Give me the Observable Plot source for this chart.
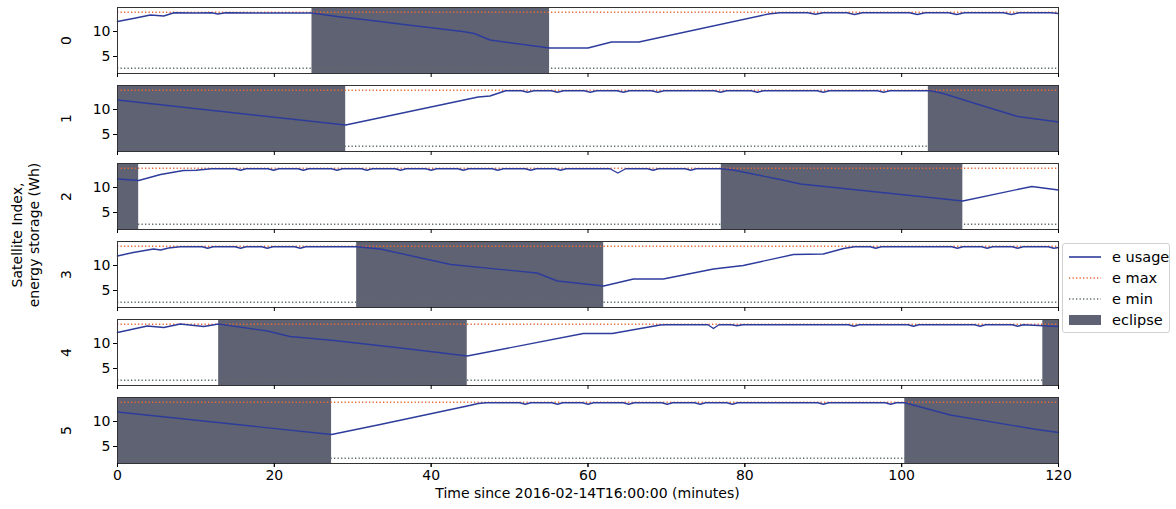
<!DOCTYPE html>
<html>
<head>
<meta charset="utf-8">
<script src="https://cdn.jsdelivr.net/npm/d3@7"></script>
<script src="https://cdn.jsdelivr.net/npm/@observablehq/plot@0.6"></script>
<style>
  body { margin: 0; background: #fff; font-family: "DejaVu Sans", sans-serif; }
  #wrap { position: relative; width: 1176px; height: 509px; overflow: hidden; }
  #legend { position: absolute; left: 1062px; top: 243px; width: 108px; height: 90px;
    border: 1px solid #d0d0d0; border-radius: 3px; background: rgba(255,255,255,0.9); box-sizing: border-box; }
</style>
</head>
<body>
<div id="wrap"></div>
<script>
// ---------------- data ----------------
const satellites = [0, 1, 2, 3, 4, 5];
const eMaxValues = [13.85, 13.85, 13.85, 13.85, 13.85, 13.85];
const eMinValues = [2.65, 2.65, 2.65, 2.65, 2.65, 2.65];

const eclipseSat   = [0, 1, 1, 2, 2, 3, 4, 4, 5, 5];
const eclipseStart = [24.8, 0, 103.4, 0, 77.0, 30.5, 12.9, 118.0, 0, 100.4];
const eclipseEnd   = [55.1, 29.1, 120, 2.7, 107.8, 62.0, 44.6, 120, 27.3, 120];

const xTicks = [0, 20, 40, 60, 80, 100, 120];
const yTicks = [5, 10];

const sat0Time = [0, 2, 4.2, 5.9, 7.2, 10, 12, 12.8, 13.8, 18, 24.8, 28, 33.5, 36, 44, 45.5, 47.5, 55.1, 60, 63, 66.5, 83, 84.5,
  88, 89, 90, 93, 94, 95, 101, 102, 103, 106, 107, 108, 113, 114, 115, 119, 120];
const sat0Energy = [12.0, 12.6, 13.3, 13.1, 13.75, 13.7, 13.75, 13.5, 13.75, 13.7, 13.7, 13.0, 12.0, 11.5, 10.0, 9.6, 8.3, 6.7, 6.7, 7.9, 7.9, 13.5, 13.75,
  13.75, 13.45, 13.75, 13.75, 13.4, 13.75, 13.75, 13.4, 13.75, 13.75, 13.4, 13.75, 13.75, 13.4, 13.75, 13.75, 13.6];

const sat1Time = [0, 29.1, 46, 47.5, 49.5, 51.5, 52.3, 53.1, 55.3, 56.1, 56.9, 59.5, 60.3, 61.1, 63.7, 64.5, 65.3, 68.1, 68.9, 69.7,
  76.1, 76.9, 77.7, 80.8, 81.6, 82.4, 89.2, 90, 90.8, 96.9, 97.7, 98.5, 103.7, 105.3, 110, 114.8, 120];
const sat1Energy = [11.9, 6.9, 12.5, 12.7, 13.75, 13.75, 13.45, 13.75, 13.75, 13.45, 13.75, 13.75, 13.45, 13.75, 13.75, 13.45, 13.75, 13.75, 13.45, 13.75,
  13.75, 13.45, 13.75, 13.75, 13.45, 13.75, 13.75, 13.45, 13.75, 13.75, 13.45, 13.75, 13.75, 13.2, 10.9, 8.6, 7.5];

const sat2Time = [0, 2.7, 5.5, 8.4, 10, 12, 15, 15.7, 16.4, 19.2, 19.9, 20.6, 23, 23.7, 24.4, 27.3, 28, 28.7, 31.1, 31.8, 32.5,
  35.4, 36.1, 36.8, 39.3, 40, 40.7, 43.4, 44.1, 44.8, 47.8, 48.5, 49.2, 52, 52.7, 53.4, 55.8, 56.5, 57.2,
  62.8, 63.8, 64.8, 67.6, 68.3, 69, 72.4, 73.1, 73.8, 77, 78.5, 84.5, 87.1, 107.8, 116.6, 120];
const sat2Energy = [11.7, 11.4, 12.6, 13.4, 13.45, 13.75, 13.75, 13.45, 13.75, 13.75, 13.45, 13.75, 13.75, 13.45, 13.75, 13.75, 13.45, 13.75, 13.75, 13.45, 13.75,
  13.75, 13.45, 13.75, 13.75, 13.45, 13.75, 13.75, 13.45, 13.75, 13.75, 13.45, 13.75, 13.75, 13.45, 13.75, 13.75, 13.45, 13.75,
  13.75, 12.9, 13.75, 13.75, 13.45, 13.75, 13.75, 13.45, 13.75, 13.75, 13.5, 11.6, 10.7, 7.3, 10.2, 9.5];

const sat3Time = [0, 2, 4.6, 5.5, 6.5, 8, 10.8, 11.5, 12.2, 15, 15.7, 16.4, 18.4, 19.1, 19.8, 22.6, 23.3, 24,
  30.5, 33.5, 42.5, 53.5, 56.1, 62, 65.8, 69.6, 76, 79.8, 86.2, 90, 92.6, 94,
  96, 96.7, 97.4, 106.4, 107.1, 107.8, 110.2, 110.9, 111.6, 114.1, 114.8, 115.5, 118.7, 119.4, 120];
const sat3Energy = [11.9, 12.6, 13.3, 13.1, 13.5, 13.75, 13.75, 13.45, 13.75, 13.75, 13.45, 13.75, 13.75, 13.45, 13.75, 13.75, 13.45, 13.75,
  13.75, 13.3, 10.2, 8.5, 6.9, 5.9, 7.3, 7.3, 9.3, 10.0, 12.2, 12.3, 13.4, 13.75,
  13.75, 13.45, 13.75, 13.75, 13.45, 13.75, 13.75, 13.45, 13.75, 13.75, 13.45, 13.75, 13.75, 13.45, 13.6];

const sat4Time = [0, 3.8, 5.9, 8, 11, 12.9, 19.1, 22, 27.6, 36.1, 44.6, 59.4, 63.1, 69.2, 70,
  75.3, 76, 76.7, 78.3, 79, 79.7, 93.2, 93.9, 94.6, 100.8, 101.5, 102.2, 109.3, 110, 110.7, 114.1, 114.8, 115.5, 120];
const sat4Energy = [12.2, 13.5, 13.2, 13.9, 13.4, 13.9, 12.5, 11.4, 10.6, 9.1, 7.5, 12.0, 12.0, 13.7, 13.75,
  13.75, 13.0, 13.75, 13.75, 13.55, 13.75, 13.75, 13.45, 13.75, 13.75, 13.45, 13.75, 13.75, 13.45, 13.75, 13.75, 13.45, 13.75, 13.4];

const sat5Time = [0, 27.3, 33.5, 44.6, 46, 47, 51.3, 52, 52.7, 55.4, 56.1, 56.8, 59.3, 60, 60.7, 64.5, 65.2, 65.9,
  69.4, 70.1, 70.8, 73.6, 74.3, 75, 77.7, 78.4, 79.1, 89.3, 90, 90.7, 97.9, 98.6, 99.3, 100.4, 106.2, 116.8, 120];
const sat5Energy = [11.9, 7.4, 9.4, 13.1, 13.6, 13.75, 13.75, 13.45, 13.75, 13.75, 13.45, 13.75, 13.75, 13.45, 13.75, 13.75, 13.45, 13.75,
  13.75, 13.45, 13.75, 13.75, 13.45, 13.75, 13.75, 13.45, 13.75, 13.75, 13.45, 13.75, 13.75, 13.45, 13.75, 13.75, 11.3, 8.5, 7.8];

const xLabel = "Time since 2016-02-14T16:00:00 (minutes)";
const yLabelLines = ["Satellite Index,", "energy storage (Wh)"];
const legendLabels = ["e usage", "e max", "e min", "eclipse"];

// ---------------- tables ----------------
const satTimes = [sat0Time, sat1Time, sat2Time, sat3Time, sat4Time, sat5Time];
const satEnergies = [sat0Energy, sat1Energy, sat2Energy, sat3Energy, sat4Energy, sat5Energy];
const usage = satellites.flatMap((s, i) => satTimes[i].map((t, j) => ({sat: s, t, e: satEnergies[i][j]})));
const eclipses = eclipseSat.map((s, i) => ({sat: s, x1: eclipseStart[i], x2: eclipseEnd[i]}));
const limits = satellites.map((s, i) => ({sat: s, max: eMaxValues[i], min: eMinValues[i]}));

const COL_USAGE = "#2d3c9c", COL_MAX = "#e86a36", COL_MIN = "#5f6d6c", COL_ECL = "#5e6272";

const chart = Plot.plot({
  width: 1176, height: 509,
  marginLeft: 117, marginRight: 118, marginTop: 6, marginBottom: 45,
  style: {fontFamily: "DejaVu Sans", fontSize: "14px", color: "#000", background: "transparent"},
  x: {domain: [0, 120]},
  y: {domain: [1.6, 14.8]},
  fy: {domain: satellites, paddingInner: 0.158, paddingOuter: 0, axis: null},
  marks: [
    Plot.rect(eclipses, {x1: "x1", x2: "x2", fy: "sat", fill: COL_ECL}),
    Plot.ruleY(limits, {y: "max", fy: "sat", stroke: COL_MAX, strokeWidth: 1.3, strokeDasharray: "1.3,2.2"}),
    Plot.ruleY(limits, {y: "min", fy: "sat", stroke: COL_MIN, strokeWidth: 1.3, strokeDasharray: "1.3,2.2"}),
    Plot.line(usage, {x: "t", y: "e", fy: "sat", stroke: COL_USAGE, strokeWidth: 1.4}),
    Plot.frame({stroke: "#333", strokeWidth: 1}),
    Plot.axisY({ticks: yTicks, tickSize: 4, tickPadding: 3, label: null}),
    Plot.axisX({ticks: xTicks, tickSize: 4, tickFormat: () => "", label: null, facetAnchor: null}),
    Plot.axisX({ticks: xTicks, tickSize: 4, tickPadding: 3, label: null}),
    Plot.text(satellites, {fy: d => d, text: d => String(d), frameAnchor: "left", dx: -51, rotate: -90, textAnchor: "middle", fontSize: 14})
  ]
});

const wrap = document.getElementById("wrap");
wrap.appendChild(chart);

// axis titles
const svg = d3.select(chart);
svg.append("text")
  .attr("x", (117 + 1058) / 2).attr("y", 498)
  .attr("text-anchor", "middle").attr("font-size", 14).attr("fill", "#000")
  .text(xLabel);
const yl = svg.append("text")
  .attr("transform", "translate(0,235) rotate(-90)")
  .attr("text-anchor", "middle").attr("font-size", 14).attr("fill", "#000");
yl.append("tspan").attr("x", 0).attr("y", 22).text(yLabelLines[0]);
yl.append("tspan").attr("x", 0).attr("y", 39).text(yLabelLines[1]);

// legend
const legend = d3.select(wrap).append("div").attr("id", "legend");
const ls = legend.append("svg").attr("width", 108).attr("height", 90)
  .style("font-family", "DejaVu Sans").style("font-size", "14.5px");
const rowsY = [13, 34, 55, 76];
ls.append("line").attr("x1", 6).attr("x2", 38).attr("y1", rowsY[0]).attr("y2", rowsY[0]).attr("stroke", COL_USAGE).attr("stroke-width", 1.6);
ls.append("line").attr("x1", 6).attr("x2", 38).attr("y1", rowsY[1]).attr("y2", rowsY[1]).attr("stroke", COL_MAX).attr("stroke-width", 1.3).attr("stroke-dasharray", "1.3,2.2");
ls.append("line").attr("x1", 6).attr("x2", 38).attr("y1", rowsY[2]).attr("y2", rowsY[2]).attr("stroke", COL_MIN).attr("stroke-width", 1.3).attr("stroke-dasharray", "1.3,2.2");
ls.append("rect").attr("x", 6).attr("y", rowsY[3] - 5).attr("width", 32).attr("height", 10).attr("fill", COL_ECL);
legendLabels.forEach((t, i) => {
  ls.append("text").attr("x", 49).attr("y", rowsY[i]).attr("dy", "0.35em").attr("fill", "#000").text(t);
});
</script>
</body>
</html>
